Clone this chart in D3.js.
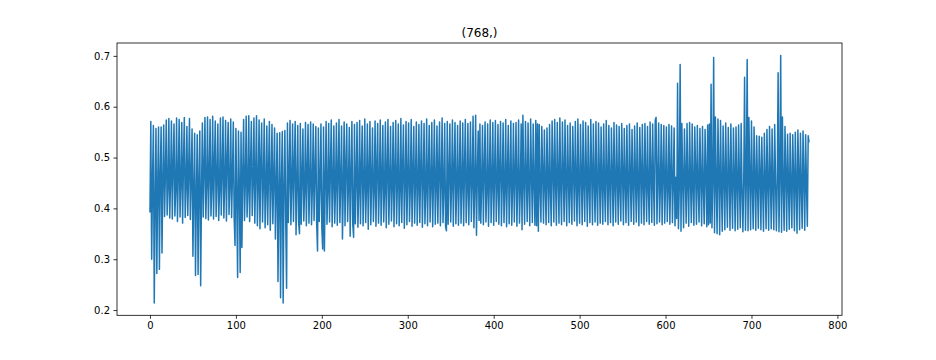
<!DOCTYPE html>
<html>
<head>
<meta charset="utf-8">
<script src="https://cdn.jsdelivr.net/npm/d3@7"></script>
<style>
  body { margin: 0; background: #fff; }
  text { font-family: "DejaVu Sans", sans-serif; }
</style>
</head>
<body>
<div id="signal_vis"></div>
<script>

// chart values
var chartTitle = "(768,)";
var xTicks = [0, 100, 200, 300, 400, 500, 600, 700, 800];
var yTicks = [0.2, 0.3, 0.4, 0.5, 0.6, 0.7];

var signal = [
0.392,0.571,0.300,0.458,0.563,0.214,0.412,0.557,0.272,0.447,0.560,0.280,0.463,0.560,0.312,0.451,0.564,0.384,0.470,0.574,0.387,0.442,0.577,0.381,
0.455,0.572,0.379,0.481,0.566,0.385,0.437,0.578,0.374,0.466,0.575,0.383,0.452,0.569,0.371,0.489,0.579,0.382,0.444,0.561,0.386,0.470,0.577,0.378,
0.462,0.556,0.306,0.437,0.548,0.268,0.421,0.545,0.270,0.455,0.552,0.248,0.430,0.568,0.383,0.476,0.579,0.380,0.449,0.580,0.377,0.468,0.575,0.385,
0.441,0.581,0.379,0.486,0.572,0.384,0.457,0.566,0.376,0.438,0.578,0.387,0.472,0.580,0.381,0.450,0.573,0.375,0.493,0.569,0.388,0.444,0.576,0.382,
0.463,0.570,0.380,0.327,0.557,0.420,0.264,0.552,0.445,0.274,0.550,0.323,0.471,0.575,0.376,0.452,0.581,0.383,0.436,0.582,0.374,0.480,0.571,0.386,
0.455,0.578,0.371,0.468,0.582,0.366,0.443,0.574,0.360,0.490,0.568,0.373,0.451,0.576,0.362,0.436,0.562,0.368,0.474,0.571,0.357,0.447,0.565,0.370,
0.459,0.558,0.340,0.440,0.548,0.256,0.431,0.549,0.224,0.452,0.551,0.214,0.438,0.553,0.377,0.243,0.568,0.372,0.466,0.573,0.368,0.449,0.566,0.374,
0.482,0.571,0.348,0.445,0.563,0.372,0.350,0.567,0.369,0.461,0.556,0.375,0.437,0.569,0.366,0.473,0.565,0.371,0.453,0.570,0.368,0.440,0.566,0.376,
0.468,0.561,0.370,0.316,0.558,0.374,0.449,0.566,0.362,0.320,0.560,0.316,0.455,0.571,0.369,0.437,0.567,0.373,0.478,0.574,0.364,0.450,0.562,0.371,
0.444,0.568,0.367,0.470,0.575,0.372,0.452,0.562,0.340,0.439,0.570,0.366,0.481,0.566,0.374,0.447,0.559,0.345,0.463,0.571,0.369,0.343,0.565,0.370,
0.457,0.569,0.363,0.436,0.573,0.370,0.475,0.562,0.366,0.449,0.576,0.372,0.441,0.566,0.359,0.468,0.571,0.368,0.455,0.558,0.374,0.438,0.572,0.365,
0.479,0.567,0.371,0.446,0.574,0.367,0.460,0.563,0.373,0.435,0.570,0.362,0.472,0.575,0.369,0.451,0.561,0.375,0.443,0.569,0.364,0.466,0.573,0.370,
0.453,0.566,0.366,0.438,0.577,0.372,0.477,0.564,0.361,0.449,0.571,0.368,0.462,0.568,0.374,0.440,0.575,0.365,0.470,0.561,0.371,0.456,0.570,0.367,
0.444,0.565,0.372,0.474,0.572,0.363,0.451,0.567,0.370,0.437,0.576,0.366,0.468,0.563,0.373,0.447,0.569,0.364,0.459,0.574,0.369,0.442,0.562,0.371,
0.476,0.570,0.366,0.452,0.578,0.372,0.439,0.567,0.364,0.356,0.571,0.369,0.465,0.566,0.373,0.446,0.574,0.365,0.471,0.569,0.370,0.441,0.563,0.367,
0.458,0.572,0.371,0.448,0.568,0.366,0.474,0.575,0.372,0.440,0.567,0.368,0.463,0.570,0.374,0.452,0.581,0.362,0.443,0.583,0.347,0.468,0.552,0.376,
0.566,0.371,0.447,0.563,0.368,0.472,0.570,0.373,0.438,0.566,0.365,0.459,0.574,0.372,0.450,0.569,0.367,0.466,0.573,0.374,0.442,0.565,0.369,0.477,
0.571,0.366,0.451,0.568,0.372,0.439,0.575,0.364,0.470,0.563,0.370,0.456,0.572,0.367,0.444,0.567,0.373,0.465,0.569,0.365,0.449,0.574,0.371,0.437,
0.566,0.358,0.583,0.452,0.369,0.571,0.463,0.374,0.568,0.442,0.366,0.576,0.471,0.372,0.566,0.448,0.367,0.573,0.366,0.566,0.355,0.565,0.440,0.373,
0.561,0.468,0.371,0.554,0.445,0.368,0.558,0.457,0.372,0.565,0.439,0.366,0.572,0.474,0.373,0.575,0.451,0.367,0.569,0.462,0.371,0.578,0.443,0.368,
0.570,0.469,0.374,0.574,0.447,0.366,0.563,0.458,0.372,0.568,0.441,0.369,0.561,0.473,0.375,0.571,0.452,0.366,0.576,0.440,0.371,0.565,0.466,0.368,
0.572,0.449,0.374,0.569,0.461,0.365,0.562,0.443,0.372,0.575,0.470,0.368,0.566,0.454,0.373,0.571,0.438,0.367,0.568,0.467,0.371,0.560,0.451,0.369,
0.566,0.442,0.374,0.573,0.463,0.368,0.563,0.448,0.372,0.558,0.471,0.366,0.569,0.445,0.373,0.564,0.458,0.369,0.561,0.440,0.375,0.567,0.466,0.368,
0.557,0.452,0.372,0.563,0.439,0.367,0.566,0.469,0.374,0.555,0.447,0.369,0.562,0.460,0.373,0.568,0.442,0.366,0.559,0.472,0.371,0.565,0.449,0.368,
0.567,0.456,0.374,0.561,0.441,0.369,0.570,0.467,0.372,0.566,0.448,0.367,0.574,0.579,0.370,0.462,0.568,0.373,0.444,0.565,0.368,0.470,0.563,0.371,
0.451,0.560,0.374,0.439,0.565,0.369,0.468,0.562,0.372,0.447,0.558,0.366,0.461,0.380,0.646,0.360,0.442,0.683,0.355,0.567,0.451,0.362,0.556,0.465,
0.371,0.567,0.443,0.365,0.569,0.458,0.372,0.566,0.440,0.367,0.560,0.470,0.369,0.563,0.447,0.373,0.557,0.459,0.366,0.561,0.441,0.370,0.555,0.467,
0.364,0.564,0.368,0.566,0.371,0.644,0.362,0.455,0.697,0.352,0.580,0.449,0.350,0.576,0.466,0.348,0.573,0.441,0.355,0.562,0.460,0.358,0.568,0.446,
0.363,0.559,0.470,0.357,0.566,0.444,0.361,0.558,0.463,0.356,0.560,0.448,0.359,0.564,0.453,0.362,0.567,0.440,0.354,0.455,0.658,0.357,0.451,0.693,
0.356,0.579,0.462,0.358,0.572,0.445,0.360,0.560,0.459,0.357,0.543,0.447,0.361,0.542,0.468,0.358,0.540,0.442,0.355,0.548,0.456,0.360,0.555,0.449,
0.357,0.561,0.464,0.360,0.556,0.443,0.358,0.565,0.457,0.356,0.450,0.667,0.354,0.462,0.701,0.353,0.580,0.447,0.357,0.561,0.465,0.355,0.546,0.450,
0.359,0.548,0.443,0.362,0.545,0.461,0.356,0.550,0.448,0.351,0.554,0.466,0.358,0.548,0.441,0.361,0.552,0.458,0.357,0.545,0.447,0.365,0.543,0.530
];

function build_signal_vis() {

    var width = 936,
    height = 360;

    // axes box, same spot as the matplotlib figure
    var left = 117, right = 842, top = 43, bottom = 315.3;

    var svg = d3.select("#signal_vis")
        .append("svg")
            .attr("width", width)
            .attr("height", height);

    // matplotlib style 5% margins
    var n = signal.length;
    var xPad = (n - 1) * 0.05;
    var yMin = d3.min(signal), yMax = d3.max(signal);
    var yPad = (yMax - yMin) * 0.05;

    var xScale = d3.scaleLinear()
        .range([left, right])
        .domain([-xPad, n - 1 + xPad]);

    var yScale = d3.scaleLinear()
        .range([bottom, top])
        .domain([yMin - yPad, yMax + yPad]);

    var line = d3.line()
        .x(function(d, i){return xScale(i);})
        .y(function(d){return yScale(d);});

    svg.append("path")
        .datum(signal)
        .attr("d", line)
        .attr("fill", "none")
        .attr("stroke", "#1f77b4")
        .attr("stroke-width", 1.5)
        .attr("stroke-linejoin", "round");

    var xAxis = svg.append("g")
        .attr("transform", "translate(0,"+bottom+")")
        .call(d3.axisBottom(xScale).tickValues(xTicks).tickFormat(d3.format("d"))
            .tickSize(3.5).tickSizeOuter(0).tickPadding(3.5));

    var yAxis = svg.append("g")
        .attr("transform", "translate("+left+",0)")
        .call(d3.axisLeft(yScale).tickValues(yTicks).tickFormat(d3.format(".1f"))
            .tickSize(3.5).tickSizeOuter(0).tickPadding(3.5));

    [xAxis, yAxis].forEach(function(g){
        g.select(".domain").remove();
        g.selectAll("line").attr("stroke", "#000").attr("stroke-width", 0.8);
        g.selectAll("text")
            .attr("fill", "#000")
            .style("font-size", "10px")
            .style("font-family", "DejaVu Sans");
    });

    // frame
    svg.append("rect")
        .attr("x", left)
        .attr("y", top)
        .attr("width", right - left)
        .attr("height", bottom - top)
        .attr("fill", "none")
        .attr("stroke", "#000")
        .attr("stroke-width", 0.8);

    svg.append("text")
        .attr("x", (left + right) / 2)
        .attr("y", top - 6)
        .attr("text-anchor", "middle")
        .style("font-size", "12px")
        .text(chartTitle);
}
build_signal_vis()
</script>
</body>
</html>
